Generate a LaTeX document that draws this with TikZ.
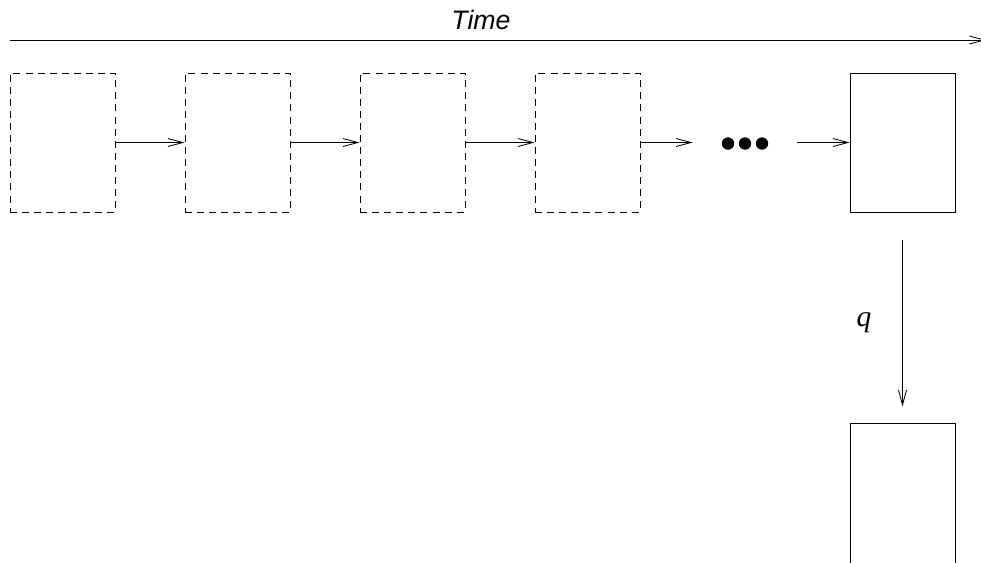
\documentclass[tikz,border=0pt]{standalone}
\usepackage{fontspec}
\setmainfont{Liberation Serif}
\setsansfont{Liberation Sans}
\usepackage{tikz}
\usetikzlibrary{arrows.meta}

\tikzset{
  state/.style={draw, line width=0.6pt, minimum width=2.625cm, minimum height=3.475cm, inner sep=0pt},
  ghost/.style={state, dash pattern=on 5pt off 3.6pt},
  link/.style={line width=0.6pt, -{Straight Barb[length=3.75mm,width=2mm]}}
}

\begin{document}
\begin{tikzpicture}[x=0.025cm, y=-0.025cm]
            \clip (0,0) rectangle (981,562);
            % time axis
            \coordinate (t0) at (10,40);
            \coordinate (t1) at (986,40);
            \draw[link] (t0) -- (t1);
            \node (time) at (481,20) {\sffamily\itshape\fontsize{19}{22}\selectfont Time};
            % earlier states
            \foreach \i/\x in {1/62.5, 2/237.5, 3/412.5, 4/587.5}
                \node[ghost] (s\i) at (\x,142.5) {};
            \foreach \i/\j in {1/2, 2/3, 3/4}
                \draw[link] (s\i.east) -- (s\j.west);
            \node[minimum width=2.6cm, inner sep=0pt] (dots) at (745,142.5) {};
            \foreach \dx in {-17,0,17}
                \fill (dots.center) ++(\dx,1) circle (0.155cm);
            \node[state] (cur) at (902.5,142.5) {};
            \draw[link] (s4.east) -- (dots.west);
            \draw[link] (dots.east) -- (cur.west);
            % query
            \node[state, minimum height=4.5cm] (res) at (902.5,513) {};
            \draw[link, shorten <=0.7cm, shorten >=0.4cm] (cur.south) -- (res.north);
            \node (q) at (864,323) {\fontsize{21}{24}\selectfont\itshape q};
        \end{tikzpicture}
\end{document}
